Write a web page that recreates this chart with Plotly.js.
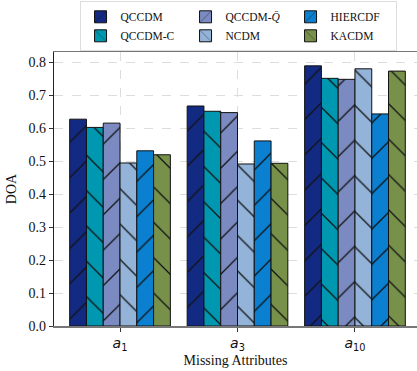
<!DOCTYPE html>
<html><head><meta charset="utf-8">
<script src="https://cdn.plot.ly/plotly-3.0.1.min.js"></script>
<style>html,body{margin:0;padding:0;overflow:hidden;background:#fff}</style>
</head><body>
<div id="chart" style="width:417px;height:371px"></div>
<script>
const categories = ['<i>a</i><sub>1</sub>', '<i>a</i><sub>3</sub>', '<i>a</i><sub>10</sub>'];
const seriesNames = ['QCCDM', 'QCCDM-C', 'QCCDM-<i>Q\u0304</i>', 'NCDM', 'HIERCDF', 'KACDM'];
const QCCDM   = [0.628, 0.668, 0.790];
const QCCDM_C = [0.603, 0.652, 0.752];
const QCCDM_Q = [0.616, 0.648, 0.749];
const NCDM    = [0.495, 0.492, 0.781];
const HIERCDF = [0.532, 0.562, 0.644];
const KACDM   = [0.520, 0.494, 0.774];
const seriesValues = [QCCDM, QCCDM_C, QCCDM_Q, NCDM, HIERCDF, KACDM];
const colors = ['#132a82', '#0098b0', '#7b8bc1', '#93b3d8', '#0b7fd0', '#77914a'];
const hatches = ['/', '\\', '/', '\\', '/', '\\'];
const legendRanks = [1, 4, 2, 5, 3, 6];

const traces = seriesNames.map((name, i) => ({
  type: 'bar',
  name: name,
  x: categories,
  y: seriesValues[i],
  legendrank: legendRanks[i],
  marker: {
    color: colors[i],
    line: {color: '#111', width: 1},
    pattern: {shape: hatches[i], size: 25, solidity: 0.05, fgcolor: '#111', bgcolor: colors[i], fillmode: 'replace'}
  }
}));

const serif = "'Liberation Serif', 'Times New Roman', Times, serif";
const layout = {
  width: 417, height: 371,
  margin: {l: 54, r: 0, t: 52, b: 45},
  paper_bgcolor: '#fff', plot_bgcolor: '#fff',
  barmode: 'group',
  bargap: 0.143, bargroupgap: 0,
  font: {family: serif, size: 12, color: '#111'},
  xaxis: {
    type: 'category',
    range: [-0.562, 2.528],
    showline: true, linecolor: '#777', linewidth: 1.5, mirror: true,
    ticks: 'outside', ticklen: 4, tickcolor: '#333',
    showgrid: true, gridcolor: '#ddd', griddash: 'dash', gridwidth: 1,
    tickfont: {family: 'DejaVu Sans', size: 14, color: '#111'},
    title: {text: 'Missing Attributes', font: {family: serif, size: 14, color: '#111'}, standoff: 2},
    zeroline: false
  },
  yaxis: {
    range: [0, 0.832],
    tickvals: [0, 0.1, 0.2, 0.3, 0.4, 0.5, 0.6, 0.7, 0.8],
    ticktext: ['0.0', '0.1', '0.2', '0.3', '0.4', '0.5', '0.6', '0.7', '0.8'],
    showline: true, linecolor: '#222', linewidth: 1.2,
    ticks: 'outside', ticklen: 4, tickcolor: '#333',
    showgrid: true, gridcolor: '#ddd', griddash: 'dash', gridwidth: 1,
    tickfont: {family: serif, size: 14, color: '#111'},
    title: {text: 'DOA', font: {family: serif, size: 14, color: '#111'}, standoff: 8},
    zeroline: false
  },
  showlegend: true,
  legend: {
    orientation: 'h',
    x: 0.507, xanchor: 'center',
    y: 1.185, yanchor: 'top',
    bgcolor: '#fff', bordercolor: '#ddd', borderwidth: 1,
    font: {family: serif, size: 11.5, color: '#111'},
    entrywidth: 60, entrywidthmode: 'pixels',
    itemwidth: 30, tracegroupgap: 0, traceorder: 'normal'
  }
};

Plotly.newPlot('chart', traces, layout, {displayModeBar: false, staticPlot: true});
</script>
</body></html>
